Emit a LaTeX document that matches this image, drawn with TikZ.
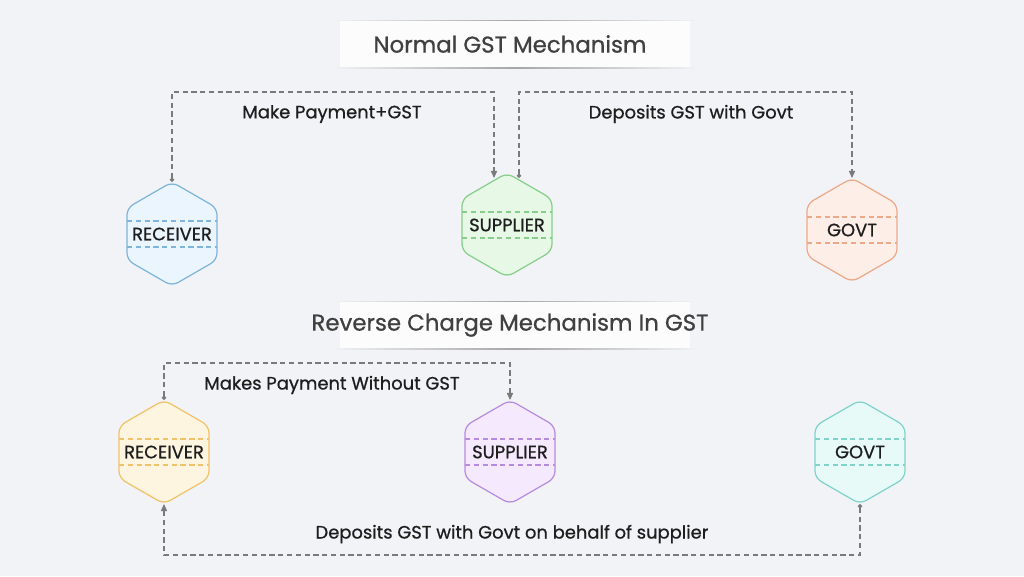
\documentclass[tikz,border=0pt]{standalone}
\usepackage{fontspec}
\setmainfont{Poppins}
\newfontfamily\medfont{Poppins}[FakeBold=0.8]
\usetikzlibrary{shapes.geometric,arrows.meta,calc}
\definecolor{bg}{HTML}{F2F3F6}
\definecolor{ink}{HTML}{1E1E1E}
\definecolor{conn}{HTML}{7A7A7A}
\definecolor{bluefill}{HTML}{EAF5FD}\definecolor{blueline}{HTML}{7FB4DB}
\definecolor{greenfill}{HTML}{E7F9E6}\definecolor{greenline}{HTML}{86CF8A}
\definecolor{orangefill}{HTML}{FDEFE7}\definecolor{orangeline}{HTML}{EBA98A}
\definecolor{yellowfill}{HTML}{FEF5E0}\definecolor{yellowline}{HTML}{F0C26A}
\definecolor{purplefill}{HTML}{F4E9FD}\definecolor{purpleline}{HTML}{B78BE0}
\definecolor{cyanfill}{HTML}{E7FAF8}\definecolor{cyanline}{HTML}{7FD3CB}
\begin{document}
\begin{tikzpicture}[x=0.02cm,y=-0.02cm,
hexbox/.style={regular polygon,regular polygon sides=6,shape border rotate=90,minimum size=2.08cm,inner sep=0pt,
  outer sep=0pt,rounded corners=4pt,line width=0.7pt,
  label={[font=\medfont\fontsize{10.2}{12}\selectfont\color{ink}]center:#1}},
flow/.style={conn,dashed,dash pattern=on 3pt off 2pt,line width=0.6pt,{Circle[length=2.5pt]}-{Triangle[length=4pt,width=3.5pt]}},
flowlabel/.style={font=\medfont\fontsize{10.2}{12}\selectfont\color{ink}},
title/.style={font=\medfont\fontsize{13}{15}\selectfont\color{ink!85}}]
\fill[bg] (0,0) rectangle (1024,576);
\useasboundingbox (0,0) rectangle (1024,576);
% title bands
\foreach \yy/\txt [count=\i] in {44/Normal GST Mechanism,325/Reverse Charge Mechanism In GST}{
  \fill[white,opacity=0.8] (340,\yy-23) rectangle (690,\yy+23);
  \shade[left color=bg,right color=bg,middle color=gray!70] (330,\yy-24) rectangle (700,\yy-23.2);
  \shade[left color=bg,right color=bg,middle color=gray!70] (330,\yy+23.2) rectangle (700,\yy+24);
  \node[title] (t\i) at (510,\yy) {\txt};
}
% hexagons
\node[hexbox=RECEIVER,draw=blueline,fill=bluefill] (rec) at (172,234) {};
\node[hexbox=SUPPLIER,draw=greenline,fill=greenfill] (sup) at (507,225) {};
\node[hexbox=GOVT,draw=orangeline,fill=orangefill] (gov) at (852,230) {};
\node[hexbox=RECEIVER,draw=yellowline,fill=yellowfill] (rrec) at (164,452) {};
\node[hexbox=SUPPLIER,draw=purpleline,fill=purplefill] (rsup) at (510,452) {};
\node[hexbox=GOVT,draw=cyanline,fill=cyanfill] (rgov) at (860,452) {};
\foreach \n/\c in {rec/blueline,sup/greenline,gov/orangeline,rrec/yellowline,rsup/purpleline,rgov/cyanline}{
  \draw[\c,dashed,dash pattern=on 3pt off 2pt,line width=0.6pt] ($(\n.center)+(-45,-13)$) -- ++(90,0);
  \draw[\c,dashed,dash pattern=on 3pt off 2pt,line width=0.6pt] ($(\n.center)+(-45,13)$) -- ++(90,0);
}
% connectors
\coordinate (supin) at ($(sup.north)+(-13,5)$);
\coordinate (supout) at ($(sup.north)+(12,5)$);
\draw[flow] (rec.north) -- ++(0,-90) -| (supin);
\draw[flow] (supout) -- ++(0,-86) -| (gov.north);
\draw[flow] (rrec.north) -- ++(0,-37) -| (rsup.north);
\draw[flow] (rgov.south) -- ++(0,51) -| (rrec.south);
\node[flowlabel] (l1) at (332,114) {Make Payment+GST};
\node[flowlabel] (l2) at (691,114) {Deposits GST with Govt};
\node[flowlabel] (l3) at (332,385) {Makes Payment Without GST};
\node[flowlabel] (l4) at (512,534) {Deposits GST with Govt on behalf of supplier};
\end{tikzpicture}
\end{document}
